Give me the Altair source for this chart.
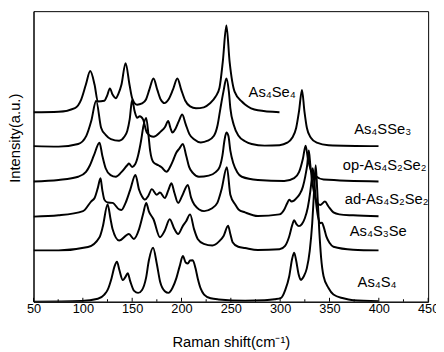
import altair as alt
import pandas as pd

# Raman spectra: [Raman shift (cm-1), stacked intensity (a.u.)]
As4Se4 = [(50,193),(75.4,193.5),(92.0,197.3),(98.3,206),(103.0,221),(107.5,235),(111.9,221),(115.2,204),
          (121.8,204.7),(124.6,210),(127.4,217.3),(130.1,211),(133.4,207.3),(136.1,212),(139.1,221),(143.3,243),
          (147.3,221),(150.0,207.3),(155.0,200.7),(160.0,202),(164.0,206),(167.4,216),(171.6,227.3),(175.4,216),
          (178.9,206),(182.8,202.3),(186.8,206),(191.3,216),(195.8,227.3),(199.7,216),(203.7,205),(208.7,199),
          (214.7,197),(222.6,198),(228.6,202),(234.6,209),(238.5,218),(241.8,244),(245.5,281.3),(248.8,244),
          (253.8,214),(261.1,204),(264.4,201),(277.4,195),(299.3,193)]

As4SSe3 = [(50,158.5),(75.4,158),(95.3,160.7),(103.5,169),(108.5,184),(113.5,204.7),(118.5,177.3),(123.1,170),
           (128.4,165.7),(136.8,164),(142.0,168),(145.0,174),(147.5,186),(150.0,205.7),(152.5,194),(155.0,187.3),
           (157.7,189),(161.0,185.7),(164.9,172.3),(171.6,168),(178.9,173.3),(183.3,178),(186.5,184),(188.8,177),
           (190.8,172.3),(193.8,176),(197.3,184),(200.7,190.7),(204.2,181),(208.0,170.7),(212.7,165.5),(219.6,162.3),
           (226.6,164),(232.9,169),(236.6,180),(239.5,197.3),(242.5,214),(245.5,227.3),(248.0,214),(249.5,197.3),
           (253.0,180),(257.8,169),(264.4,163.5),(271.1,160.7),(284.3,159),(299.3,159.5),(307.2,162),(312.2,167),
           (316.2,177),(319.1,194),(322.1,215.7),(324.6,194),(327.1,177),(331.1,167),(337.1,162),(349.0,159.5),
           (399.7,158.5)]

op_As4S2Se2 = [(50,122.5),(75.4,124),(95.3,127.3),(103.2,132.3),(107.2,139),(111.2,149),(116.9,162),(119.7,149),
               (123.1,136),(128.1,129),(133.4,127.3),(139.1,132),(145.0,139),(146.7,140.7),(150.0,137.3),(153.0,140),
               (156.0,149),(159.0,164),(161.4,179),(164.2,187.3),(166.6,169),(168.2,154),(171.6,142),(176.6,139),
               (179.8,137),(184.8,132.3),(188.8,138),(191.5,144),(194.8,152),(197.8,156),(201.4,160.7),(204.7,149),
               (207.7,137.3),(211.7,131),(217.7,127.3),(227.6,128.5),(234.6,132),(238.6,137),(241.5,149),(243.5,164),
               (245.5,172.3),(247.5,169),(249.5,154),(252.5,141),(256.5,132),(261.1,127.3),(277.4,124),(304.2,123),
               (314.2,126),(319.1,132),(323.1,146),(325.8,159),(328.1,146),(331.1,134),(335.8,128),(344,124.5),
               (399.7,122.5)]

ad_As4S2Se2 = [(50,86.7),(75.4,88),(100.2,92.3),(108.5,102.3),(111.9,105.7),(115.2,116),(117.9,125.7),(119.7,114),
               (121.8,104),(125.1,101),(130.1,100.7),(136.8,94),(139.1,93.5),(143.3,100.7),(148.0,114),(153.3,129),
               (157.0,114),(160.0,107.3),(163.0,104),(166.4,108),(169.9,114.7),(174.9,109),(178.2,111.3),(183.1,105.7),
               (186.8,114),(189.8,120.7),(192.8,111),(196.5,100.7),(200.7,108),(206.4,119),(209.7,106),(213.0,99),
               (222.9,92.3),(230.6,95),(236.3,100.7),(240.5,114),(246.0,137),(249.5,109),(254.5,99),(257.8,94),
               (264.4,91),(277.4,87.3),(299.3,89),(304.2,94),(307.0,100),(309.2,104),(311.5,102),(314.0,103),
               (317.0,106),(320.0,110),(323.0,117),(325.5,128),(327.5,140),(329.0,154),(330.5,140),(332.5,122),
               (335.0,108),(337.5,101),(340.5,98.5),(345.4,102),(349.0,97),(354,91),(360,89),(373.9,88),(399.7,87)]

As4S3Se = [(50,52.3),(75.4,52.3),(105.2,55.7),(116.9,65.7),(120.1,76),(125.1,99),(128.1,84),(130.1,74),
           (136.8,62.3),(146.7,69),(151.7,64),(157.0,74),(161.0,89),(164.2,100.7),(166.9,92),(171.6,84),
           (178.2,65.7),(182.8,72),(188.1,84),(192.8,74),(196.5,69),(201.4,77.3),(204.7,82),(208.7,89),
           (212.7,74),(216.4,64),(222.6,59),(231.3,57.3),(238.6,62),(242.8,67.3),(247.2,77.3),(249.5,69),
           (251.8,60.7),(257.5,56),(264.4,54.7),(277.4,52.7),(299.3,53.5),(305.0,57),(309.0,66),(312.2,78),
           (314.2,83),(316.5,79),(319.0,77),(322.0,79),(325.0,85),(328.0,96),(330.5,112),(332.0,125),(333.0,136),
           (334.5,122),(336.5,100),(338.5,86),(340.5,80),(342.3,80.5),(344.5,75),(347,66),(350,60),(354,56),
           (373.9,53),(399.7,52.3)]

As4S4 = [(50,0),(98.3,0.7),(115.2,3),(121.8,7.3),(125.1,12),(129.1,24),(132.1,36),(134.6,40.7),(137.1,32),
         (140.5,22),(143.0,25),(145.5,29),(148.0,21),(152.0,11),(156.0,9),(160.0,12),(164.0,24),(166.9,42),
         (171.2,55),(174.9,39),(178.4,20),(183.1,10.7),(186.8,9),(190.8,14),(194.8,24),(198.1,36),(201.4,46.5),
         (204.2,40),(206.4,39),(208.7,42),(211.4,42.3),(214.2,34),(216.4,24),(219.6,13),(222.9,7.3),(229.6,3.5),
         (237.8,2.3),(264.4,1),(284.3,1.5),(294.3,2.5),(301,4),(305.2,12),(309.2,26),(312.2,44),(314.2,50),
         (316.2,42),(318.7,28),(320.9,22.3),(324.0,26),(327.0,34),(330.0,52),(332.5,80),(334.5,115),(336.0,139),
         (337.5,115),(339.5,75),(341.5,45),(344,26),(349,14),(354,7.3),(364,3.5),(373.9,1.5),(399.7,0.5)]

series_names = ["As4Se4", "As4SSe3", "op-As4S2Se2", "ad-As4S2Se2", "As4S3Se", "As4S4"]
series_data = [As4Se4, As4SSe3, op_As4S2Se2, ad_As4S2Se2, As4S3Se, As4S4]

# curve labels and where they sit (data coordinates)
label_texts = ["As₄Se₄", "As₄SSe₃", "op-As₄S₂Se₂", "ad-As₄S₂Se₂", "As₄S₃Se", "As₄S₄"]
label_x = [268, 375, 363.5, 365.5, 370.5, 378.5]
label_y = [214, 175.5, 139.5, 104.5, 71.5, 20.5]

major_ticks = [50, 100, 150, 200, 250, 300, 350, 400, 450]
minor_ticks = [75, 125, 175, 225, 275, 325, 375, 425]

rows = []
for name, pts in zip(series_names, series_data):
    for i, (a, b) in enumerate(pts):
        rows.append({"name": name, "x": a, "y": b, "i": i})
df = pd.DataFrame(rows)
lab = pd.DataFrame({"t": label_texts, "x": label_x, "y": label_y})
maj = pd.DataFrame({"x": major_ticks})
mnr = pd.DataFrame({"x": minor_ticks})

W, H = 402, 296
xs = alt.Scale(domain=[50, 450], nice=False, zero=False)
ys = alt.Scale(domain=[0, 296], nice=False)
FONT = "Liberation Sans"

lines = alt.Chart(df).mark_line(color="black", strokeWidth=2, interpolate="monotone", clip=True).encode(
    x=alt.X("x:Q", scale=xs, axis=alt.Axis(values=major_ticks, ticks=False, grid=False, labelFontSize=13,
                                           labelPadding=1, labelColor="black", labelFont=FONT,
                                           title="Raman shift(cm⁻¹)", titleFontSize=15, titleFont=FONT,
                                           titleFontWeight="normal", titleColor="black", titlePadding=20,
                                           domainColor="black", labelFlush=False)),
    y=alt.Y("y:Q", scale=ys, axis=alt.Axis(labels=False, ticks=False, grid=False, domainColor="black",
                                           title="Intensity(a.u.)", titleFontSize=15, titleFont=FONT,
                                           titleFontWeight="normal", titleColor="black",
                                           titleX=-19, titleY=129, titleAngle=270, titleAlign="center",
                                           titleBaseline="middle")),
    detail="name:N",
    order="i:Q",
)

maj_ticks = alt.Chart(maj).mark_rule(color="black", strokeWidth=1).encode(
    x=alt.X("x:Q", scale=xs), y=alt.value(H), y2=alt.value(H - 4))
min_ticks = alt.Chart(mnr).mark_rule(color="black", strokeWidth=1).encode(
    x=alt.X("x:Q", scale=xs), y=alt.value(H), y2=alt.value(H - 2.5))

labels = alt.Chart(lab).mark_text(align="left", baseline="middle", fontSize=15, font=FONT, color="black").encode(
    x=alt.X("x:Q", scale=xs), y=alt.Y("y:Q", scale=ys), text="t:N")

chart = alt.layer(lines, maj_ticks, min_ticks, labels).properties(
    width=W, height=H,
    autosize=alt.AutoSizeParams(type="none"),
    padding={"left": 26, "top": 0, "right": 8, "bottom": 48},
).configure_view(stroke="black", strokeWidth=1).configure_axis(domainWidth=1)

chart.save("out.html", embed_options={"renderer": "svg", "actions": False})
